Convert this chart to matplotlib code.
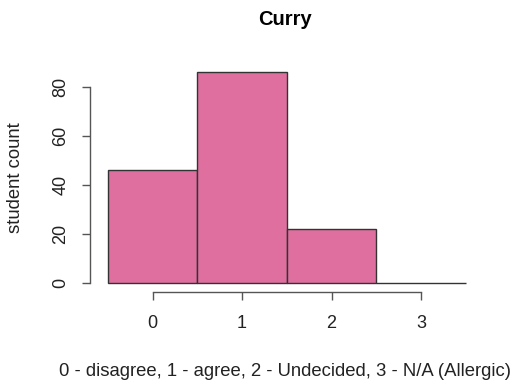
import matplotlib.pyplot as plt

plt.rcParams['font.family'] = ['Liberation Sans', 'DejaVu Sans']

# response codes and number of students per code
codes = [0, 1, 2, 3]
counts = [46, 86, 22, 0]
yticks = [0, 20, 40, 60, 80]

fig = plt.figure(figsize=(5.11, 3.83), dpi=100)
ax = fig.add_axes([90 / 511, 91.5 / 383, 390 / 511, 227.5 / 383])

ax.bar(codes, counts, width=1.0, color='#DE6F9E', edgecolor='#333333', linewidth=1.0)

ax.set_xlim(-0.7, 3.66)
ax.set_ylim(-3.44, 89.44)

# R style axes: lines only over the tick range
for s in ['top', 'right']:
    ax.spines[s].set_visible(False)
ax.spines['left'].set_bounds(0, 80)
ax.spines['bottom'].set_bounds(0, 3)
for s in ['left', 'bottom']:
    ax.spines[s].set_color('#555555')
    ax.spines[s].set_linewidth(1.0)

ax.set_xticks(codes)
ax.set_yticks(yticks)
ax.tick_params(axis='both', direction='out', length=6, width=1.0, color='#555555',
               labelsize=13, labelcolor='#222222')
ax.tick_params(axis='x', pad=11)
ax.tick_params(axis='y', pad=9, labelrotation=90)
for lab in ax.get_yticklabels():
    lab.set_va('center')

ax.set_title('Curry', fontsize=14.5, fontweight='bold', pad=28)
ax.set_xlabel('0 - disagree, 1 - agree, 2 - Undecided, 3 - N/A (Allergic)',
              fontsize=13.3, labelpad=22, color='#222222')
ax.set_ylabel('student count', fontsize=13.3, labelpad=20, color='#222222')

plt.savefig('out.png', dpi=100)
plt.close()
